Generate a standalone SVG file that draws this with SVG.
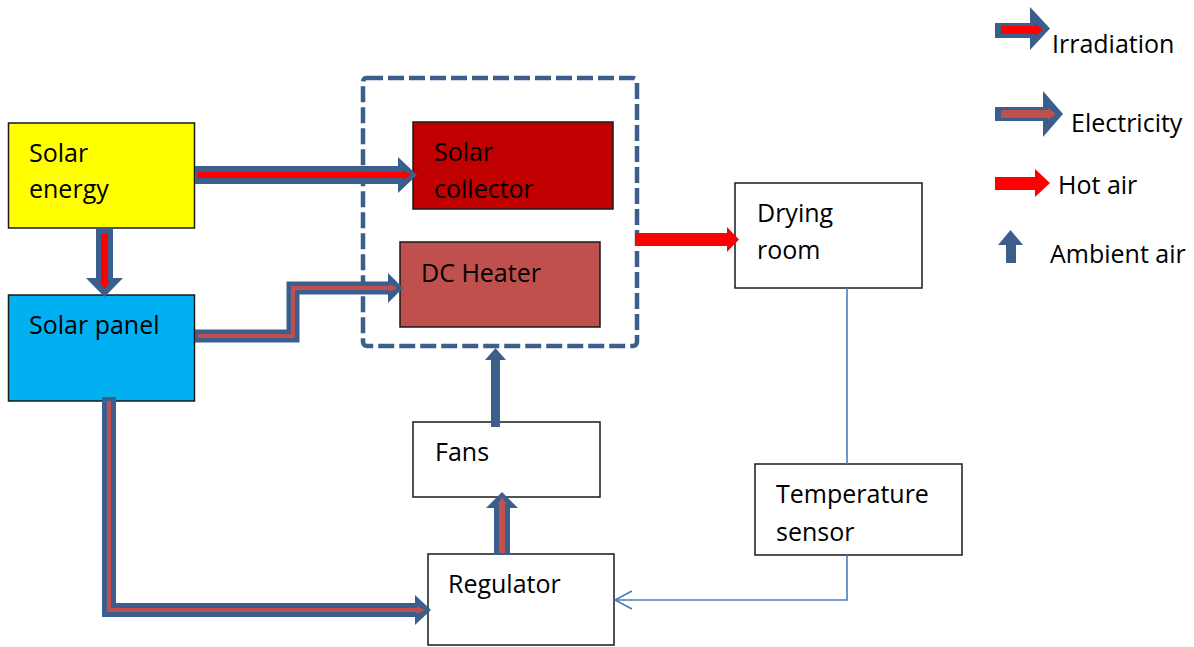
<svg xmlns="http://www.w3.org/2000/svg" width="1194" height="647" viewBox="0 0 1194 647">
<style>
.box{stroke:#1a1a1a;stroke-width:1.5}
.t{font-family:"Open Sans","Liberation Sans",sans-serif;font-size:25px;fill:#000}
.blue{fill:#3B5E8C}
.red{fill:#FF0000}
.ered{fill:#C0504D}
.bstroke{fill:none;stroke:#3B5E8C;stroke-linejoin:miter}
.rstroke{fill:none;stroke:#C0504D}
.thin{fill:none;stroke:#4A7EBB;stroke-width:1.6}
</style>
<rect width="1194" height="647" fill="#fff"/>
<g id="dashed-group">
<rect x="363" y="78" width="274" height="268" rx="4" fill="none" stroke="#3B5E8C" stroke-width="4.5" stroke-dasharray="16 5"/>
</g>
<g id="solar-energy"><rect class="box" x="8.5" y="123" width="186" height="105" fill="#FFFF00"/><text class="t" x="29" y="162">Solar</text><text class="t" x="29" y="198">energy</text></g>
<g id="solar-panel"><rect class="box" x="8.5" y="295" width="186" height="106" fill="#00B0F0"/><text class="t" x="29" y="334">Solar panel</text></g>
<g id="solar-collector"><rect class="box" x="413" y="122" width="200" height="87" fill="#C00000"/><text class="t" x="434" y="161">Solar</text><text class="t" x="434" y="198">collector</text></g>
<g id="dc-heater"><rect class="box" x="400" y="242" width="200" height="85" fill="#C0504D"/><text class="t" x="421" y="282">DC Heater</text></g>
<g id="drying-room"><rect class="box" x="735" y="183" width="187" height="105" fill="#fff"/><text class="t" x="757" y="222">Drying</text><text class="t" x="757" y="259">room</text></g>
<g id="temperature-sensor"><rect class="box" x="755" y="464" width="207" height="91" fill="#fff"/><text class="t" x="776" y="503">Temperature</text><text class="t" x="776" y="541">sensor</text></g>
<g id="fans"><rect class="box" x="413" y="422" width="187" height="75" fill="#fff"/><text class="t" x="435" y="461">Fans</text></g>
<g id="regulator"><rect class="box" x="428" y="554" width="186" height="91" fill="#fff"/><text class="t" x="448" y="593">Regulator</text></g>
<g id="connectors">
<!-- irradiation: solar energy -> collector -->
<polygon class="blue" points="195,166 398,166 398,157 417,175 398,193 398,184 195,184"/>
<polygon class="red" points="198,172 403,172 403,170 411,175 403,180 403,178 198,178"/>
<!-- irradiation: solar energy -> panel -->
<polygon class="blue" points="96,228 113,228 113,278 123,278 104.5,297 86,278 96,278"/>
<polygon class="red" points="101,234 108,234 108,281 110,281 104.5,289 99,281 101,281"/>
<!-- electricity: panel -> heater -->
<path class="bstroke" stroke-width="13" d="M195,336 H293 V288 H390"/>
<polygon class="blue" points="388,273 403,288 388,303"/>
<path class="rstroke" stroke-width="4" d="M198,336 H293 V288 H392"/>
<polygon class="ered" points="390,284 397,288 390,292"/>
<!-- electricity: panel -> regulator -->
<path class="bstroke" stroke-width="14" d="M109,397 V610 H417"/>
<polygon class="blue" points="415,595 431,610 415,625"/>
<path class="rstroke" stroke-width="4" d="M109,401 V610 H418"/>
<polygon class="ered" points="417,606 425,610 417,614"/>
<!-- electricity: regulator -> fans -->
<polygon class="blue" points="494,555 510,555 510,508 518,508 502,492 486,508 494,508"/>
<polygon class="ered" points="499,553 505,553 505,504 506,504 502,497 498,504 499,504"/>
<!-- ambient air: fans -> heater group -->
<polygon class="blue" points="491,427 500,427 500,360 506,360 495.5,348 485,360 491,360"/>
<!-- hot air -->
<polygon class="red" points="635,233 727,233 727,227 739,239.5 727,252 727,246 635,246"/>
<!-- sensor lines -->
<path class="thin" d="M847,288 V464"/>
<path class="thin" d="M847,555 V600 H615"/>
<polyline class="thin" points="632,591 615,600 632,609"/>
</g>
<g id="legend">
<polygon class="blue" points="995,23 1030,23 1030,7 1050,28.5 1030,50 1030,38 995,38"/>
<polygon class="red" points="1001,26 1035,26 1035,24 1043,30 1035,36 1035,34 1001,34"/>
<text class="t" x="1052" y="53">Irradiation</text>
<polygon class="blue" points="995,107 1043,107 1043,91 1063,114 1043,137 1043,121 995,121"/>
<polygon class="ered" points="1001,110 1048,110 1048,108 1056,114 1048,120 1048,118 1001,118"/>
<text class="t" x="1071" y="132">Electricity</text>
<polygon class="red" points="995,177 1035,177 1035,169 1050,183 1035,197 1035,190 995,190"/>
<text class="t" x="1058" y="194">Hot air</text>
<polygon class="blue" points="1006,263 1016,263 1016,245 1023,245 1010.5,230 998,245 1006,245"/>
<text class="t" x="1050" y="263">Ambient air</text>
</g>
</svg>
